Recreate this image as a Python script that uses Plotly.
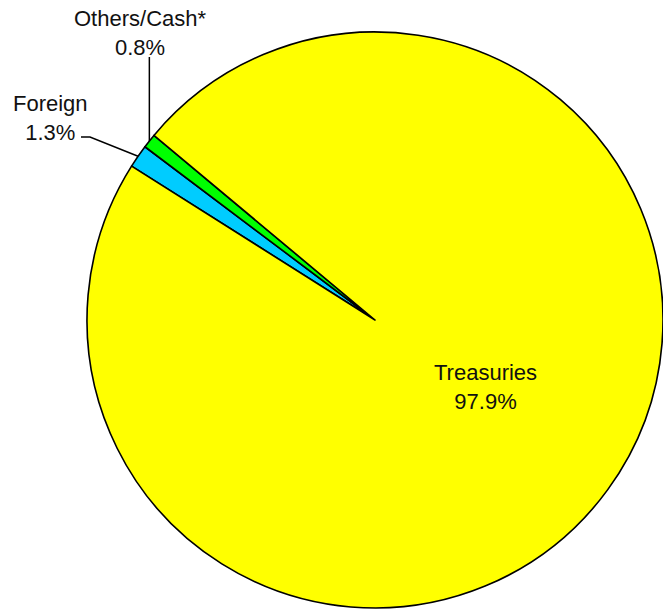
import math
import plotly.graph_objects as go

# ---- data ----
labels = ["Foreign", "Others/Cash*", "Treasuries"]
values = [1.3, 0.8, 97.9]
colors = ["#00CCFF", "#00FF00", "#FFFF00"]

# ---- layout constants (pixels) ----
W, H = 663, 609
START_ANGLE = 302.3          # clockwise from 12 o'clock, start of first slice
PIE_LEFT, PIE_RIGHT = 87, 663
CY = 320
R = (PIE_RIGHT - PIE_LEFT) / 2
CX = PIE_LEFT + R
FONT = dict(family="Liberation Sans, Arial, sans-serif", size=22, color="#111111")


def paper(x, y):
    return x / W, 1 - y / H


# slice mid-angles derived from the data
total = sum(values)
mid = {}
acc = START_ANGLE
for lab, v in zip(labels, values):
    span = 360.0 * v / total
    mid[lab] = acc + span / 2
    acc += span


def edge(lab, frac=1.0):
    a = math.radians(mid[lab])
    return CX + R * frac * math.sin(a), CY - R * frac * math.cos(a)


fig = go.Figure(
    go.Pie(
        labels=labels,
        values=values,
        sort=False,
        direction="clockwise",
        rotation=START_ANGLE,
        marker=dict(colors=colors, line=dict(color="black", width=1.6)),
        textinfo="none",
        hoverinfo="label+percent",
        showlegend=False,
        domain=dict(
            x=[PIE_LEFT / W, PIE_RIGHT / W],
            y=[(H - (CY + R)) / H, (H - (CY - R)) / H],
        ),
    )
)

pct = {lab: f"{v:.1f}%" for lab, v in zip(labels, values)}

annotations = []
shapes = []

# Treasuries label (inside)
tx, ty = paper(486, 387)
annotations.append(dict(x=tx, y=ty, xref="paper", yref="paper",
                        text=f"Treasuries<br>{pct['Treasuries']}",
                        showarrow=False, font=FONT, xanchor="center", yanchor="middle"))

# Others/Cash label with vertical leader line
ox, oy = edge("Others/Cash*")
x0, y0 = paper(ox, oy)
x1, y1 = paper(ox, 57)
shapes.append(dict(type="path", xref="paper", yref="paper",
                   path=f"M {x0},{y0} L {x1},{y1}",
                   line=dict(color="black", width=1.5)))
ax_, ay_ = paper(140, 33)
annotations.append(dict(x=ax_, y=ay_, xref="paper", yref="paper",
                        text=f"Others/Cash*<br>{pct['Others/Cash*']}",
                        showarrow=False, font=FONT, xanchor="center", yanchor="middle"))

# Foreign label with elbow leader line
fx, fy = edge("Foreign")
p0 = paper(fx, fy)
p1 = paper(90, 137)
p2 = paper(81, 137)
shapes.append(dict(type="path", xref="paper", yref="paper",
                   path=f"M {p0[0]},{p0[1]} L {p1[0]},{p1[1]} L {p2[0]},{p2[1]}",
                   line=dict(color="black", width=1.5)))
bx, by = paper(50, 118)
annotations.append(dict(x=bx, y=by, xref="paper", yref="paper",
                        text=f"Foreign<br>{pct['Foreign']}",
                        showarrow=False, font=FONT, xanchor="center", yanchor="middle"))

fig.update_layout(
    width=W, height=H,
    margin=dict(l=0, r=0, t=0, b=0),
    paper_bgcolor="white",
    plot_bgcolor="white",
    annotations=annotations,
    shapes=shapes,
)

fig.write_html(
    "out.html",
    config={"displayModeBar": False},
    post_script="document.body.style.margin='0';document.body.style.overflow='hidden';",
)
